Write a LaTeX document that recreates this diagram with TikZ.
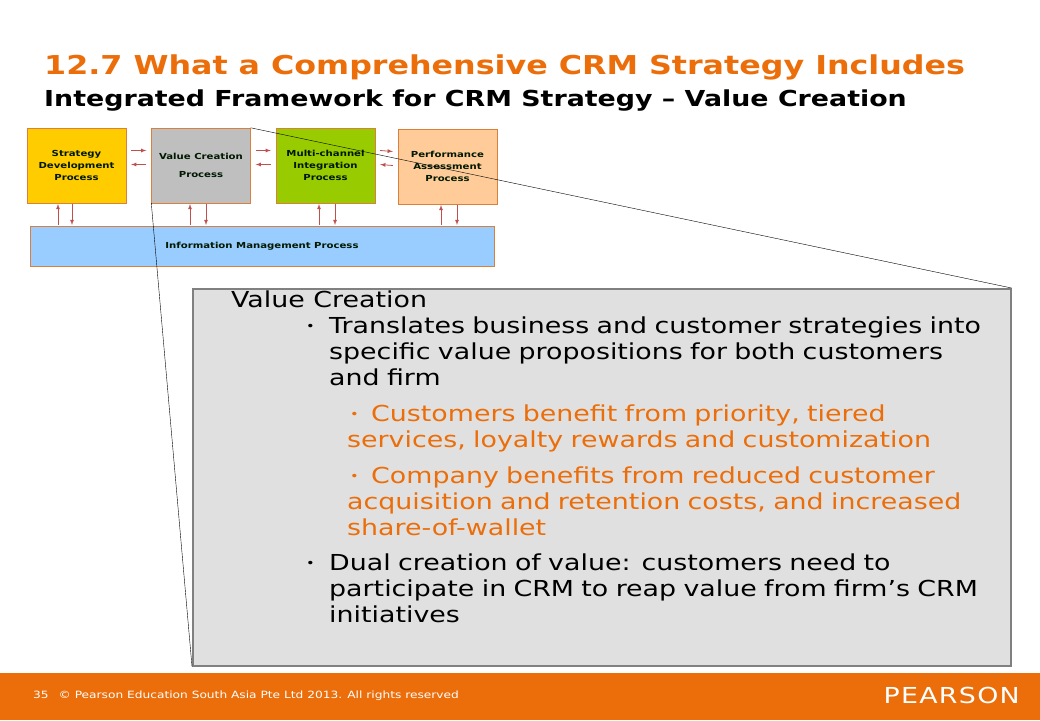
\documentclass[tikz,border=0pt]{standalone}
\usepackage{fontspec}
\setmainfont{DejaVu Sans}[FakeStretch=1.22]
\usetikzlibrary{positioning}
\definecolor{pearsonorange}{HTML}{EB6E0A}
\definecolor{arrowred}{HTML}{C0504D}
\definecolor{boxedge}{HTML}{D9803C}
\newcommand\nohyph{\hyphenpenalty=10000\relax\exhyphenpenalty=10000\relax}
\tikzset{
  proc/.style={draw=boxedge, minimum width=99pt, minimum height=75pt, align=center, font=\fontsize{8.3}{12}\selectfont\bfseries, text=black!75!green!40!black},
  link/.style={arrowred, thick, -latex},
  bodytext/.style={anchor=north west, align=left, inner sep=0pt, font=\fontsize{22}{26}\selectfont\nohyph}
}
\begin{document}
\begin{tikzpicture}[x=1pt, y=-1pt]
    \useasboundingbox (0,0) rectangle (1040,720);
    \fill[white] (0,0) rectangle (1040,720);

    % titles
    \node (title) [anchor=base west, inner sep=0pt, text=pearsonorange, font=\fontsize{26}{30}\selectfont\bfseries] at (44,74) {12.7 What a Comprehensive CRM Strategy Includes};
    \node (subtitle) [anchor=base west, inner sep=0pt, font=\fontsize{22}{24}\selectfont\bfseries] at (44,106) {Integrated Framework for CRM Strategy – Value Creation};

    % small framework
    \node (strategy) [proc, fill={rgb,255:red,255;green,204;blue,0}] at (76.5,165.5) {Strategy\\Development\\Process};
    \node (value) [proc, fill=black!25] at (201,165.5) {Value Creation\\[6pt]Process};
    \node (multi) [proc, fill={rgb,255:red,153;green,204;blue,0}] at (325.5,165.5) {Multi-channel\\Integration\\Process};
    \node (perf) [proc, fill={rgb,255:red,255;green,204;blue,153}] at (447.5,166.5) {Performance\\Assessment\\Process};
    \node (info) [proc, minimum width=464pt, minimum height=40pt, fill={rgb,255:red,153;green,204;blue,255}] at (262,246) {Information Management Process};

    \foreach \a/\b in {strategy/value, value/multi, multi/perf} {
        \draw [link] ([xshift=5pt,yshift=15pt]\a.east) -- ([xshift=-5pt,yshift=15pt]\b.west);
        \draw [link] ([xshift=-5pt,yshift=1pt]\b.west) -- ([xshift=5pt,yshift=1pt]\a.east);
    }
    \foreach \xl/\xr/\yb in {58/72/204, 190/206/204, 319/335/204, 441/457/205} {
        \draw [link] (\xl,225) -- (\xl,\yb);
        \draw [link] (\xr,\yb) -- (\xr,225);
    }

    % zoom box
    \node (zoom) [draw=black!50, line width=1.5pt, fill=black!12, minimum width=818pt, minimum height=377pt, anchor=north west, inner sep=0pt] at (192,288) {};
    \draw [black, thin] (value.north east) -- (zoom.north east);
    \draw [black, thin] (value.south west) -- (zoom.south west);

    \node (head) [bodytext] at (231,291) {Value Creation};
    \node (b1) [bodytext, text width=656pt] at (329,317) {Translates business and customer strategies into specific value propositions for both customers and firm};
    \node [left=14pt of b1.north west, anchor=north east, inner sep=0pt, yshift=-7pt] {\fontsize{12}{12}\selectfont •};
    \node (s1) [bodytext, text width=615pt, text=pearsonorange] at (347,405) {\hspace*{24pt}Customers benefit from priority, tiered services, loyalty rewards and customization};
    \node [anchor=north west, inner sep=0pt, text=pearsonorange] at (350,412) {\fontsize{12}{12}\selectfont •};
    \node (s2) [bodytext, text width=625pt, text=pearsonorange] at (347,467) {\hspace*{24pt}Company benefits from reduced customer acquisition and retention costs, and increased share-of-wallet};
    \node [anchor=north west, inner sep=0pt, text=pearsonorange] at (350,474) {\fontsize{12}{12}\selectfont •};
    \node (b2) [bodytext, text width=660pt] at (329,554) {Dual creation of value: customers need to participate in CRM to reap value from firm’s CRM initiatives};
    \node [left=14pt of b2.north west, anchor=north east, inner sep=0pt, yshift=-7pt] {\fontsize{12}{12}\selectfont •};

    % footer
    \fill[pearsonorange] (0,673) rectangle (1040,720);
    \node (page) [anchor=base west, inner sep=0pt, text=white, font=\fontsize{10}{12}\selectfont] at (33,698) {35\quad © Pearson Education South Asia Pte Ltd 2013. All rights reserved};
    \node (logo) [anchor=base east, inner sep=0pt, text=white, font=\fontsize{22}{24}\selectfont\addfontfeature{LetterSpace=6}] at (1020,703) {PEARSON};
\end{tikzpicture}
\end{document}
